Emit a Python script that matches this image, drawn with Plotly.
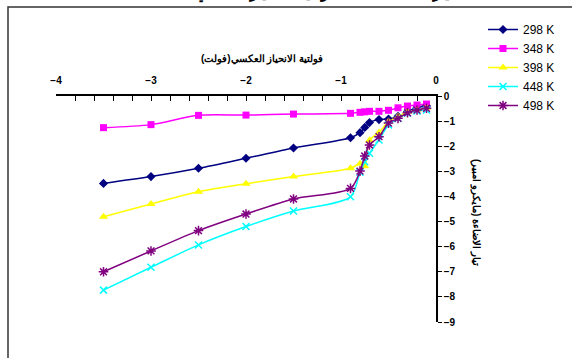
import plotly.graph_objects as go

# Reverse bias voltage (V)
voltage = [-3.5, -3.0, -2.5, -2.0, -1.5, -0.9, -0.8, -0.75, -0.7, -0.6, -0.5, -0.4, -0.3, -0.2, -0.1]

# Photocurrent (uA) at each temperature
i_298 = [-3.48, -3.21, -2.88, -2.48, -2.07, -1.66, -1.46, -1.25, -1.06, -0.94, -0.92, -0.81, -0.63, -0.45, -0.40]
i_348 = [-1.26, -1.14, -0.77, -0.76, -0.72, -0.69, -0.65, -0.63, -0.61, -0.61, -0.57, -0.47, -0.40, -0.36, -0.32]
i_398 = [-4.81, -4.30, -3.81, -3.49, -3.21, -2.88, -2.70, -2.80, -1.76, -1.45, -1.02, -0.82, -0.63, -0.56, -0.47]
i_448 = [-7.73, -6.82, -5.93, -5.20, -4.58, -4.01, -3.04, -2.62, -2.28, -1.75, -1.15, -0.89, -0.69, -0.60, -0.56]
i_498 = [-7.00, -6.17, -5.36, -4.70, -4.10, -3.68, -2.99, -2.39, -1.95, -1.62, -1.08, -0.89, -0.67, -0.56, -0.49]

series_names = ["298 K", "348 K", "398 K", "448 K", "498 K"]
x_ticks = [-4, -3, -2, -1, 0]
y_ticks = [0, -1, -2, -3, -4, -5, -6, -7, -8, -9]

x_title = "فولتية الانحياز العكسي(فولت)"
y_title = "تيار الاضاءة (مايكرو امبير)"
chart_title = "تيار الاضاءة كدالة لفولتية الانحياز العكسي"

FONT = "Arial, Liberation Sans, sans-serif"

styles = [
    dict(color="#000080", symbol="diamond", size=7, lw=0),
    dict(color="#FF00FF", symbol="square", size=7, lw=0),
    dict(color="#FFFF00", symbol="triangle-up", size=8, lw=0),
    dict(color="#00FFFF", symbol="x-thin-open", size=7, lw=1.5),
    dict(color="#800080", symbol="asterisk-open", size=8, lw=1.5),
]

fig = go.Figure()
for name, ys, st in zip(series_names, [i_298, i_348, i_398, i_448, i_498], styles):
    fig.add_trace(go.Scatter(
        x=voltage, y=ys, name=name, mode="lines+markers",
        line=dict(color=st["color"], width=1.5, shape="spline", smoothing=0.8),
        marker=dict(symbol=st["symbol"], size=st["size"], color=st["color"],
                    line=dict(color=st["color"], width=st["lw"])),
    ))

# Plot area: x from 56px to 436px, y from 96px to 322px
L, R, T, B = 56, 136, 96, 36
W, H = 572, 358
pw, ph = W - L - R, H - T - B

def px_x(p):
    return (p - L) / pw

def px_y(p):
    return (H - B - p) / ph

fig.update_layout(
    width=W, height=H,
    margin=dict(l=L, r=R, t=T, b=B, pad=0),
    paper_bgcolor="white", plot_bgcolor="white",
    font=dict(family=FONT, color="black"),
    showlegend=True,
    legend=dict(
        x=px_x(483), y=px_y(15), xanchor="left", yanchor="top",
        font=dict(size=12, family=FONT), itemwidth=30,
        bgcolor="rgba(0,0,0,0)", borderwidth=0,
    ),
    xaxis=dict(
        range=[-4, 0], side="top", showgrid=False, zeroline=False,
        showline=True, linecolor="black", linewidth=1.5,
        tickvals=x_ticks, ticks="inside", ticklen=5, tickcolor="black", tickwidth=1,
        tickfont=dict(size=10, family=FONT, weight="bold"), ticklabelstandoff=6,
        minor=dict(dtick=0.2, ticks="inside", ticklen=5, tickcolor="black", tickwidth=1, showgrid=False),
    ),
    yaxis=dict(
        range=[-9, 0], side="right", showgrid=False, zeroline=False,
        showline=True, linecolor="black", linewidth=1.5,
        tickvals=y_ticks, ticks="outside", ticklen=4, tickcolor="black", tickwidth=1,
        tickfont=dict(size=10, family=FONT, weight="bold"),
    ),
    shapes=[dict(
        type="rect", xref="paper", yref="paper",
        x0=px_x(8), x1=px_x(590), y0=px_y(380), y1=px_y(7),
        line=dict(color="#333333", width=1.5), fillcolor="rgba(0,0,0,0)", layer="below",
    )],
    annotations=[
        dict(text=x_title, xref="paper", yref="paper", x=px_x(262), y=px_y(59),
             xanchor="center", yanchor="middle", showarrow=False,
             font=dict(size=10, family=FONT, weight="bold")),
        dict(text=y_title, xref="paper", yref="paper", x=px_x(476), y=px_y(212),
             xanchor="center", yanchor="middle", showarrow=False, textangle=90,
             font=dict(size=10, family=FONT, weight="bold")),
        dict(text=chart_title, xref="paper", yref="paper", x=px_x(325), y=px_y(5),
             xanchor="center", yanchor="bottom", showarrow=False,
             font=dict(size=15, family=FONT, weight="bold")),
    ],
)

fig.write_html("out.html")
